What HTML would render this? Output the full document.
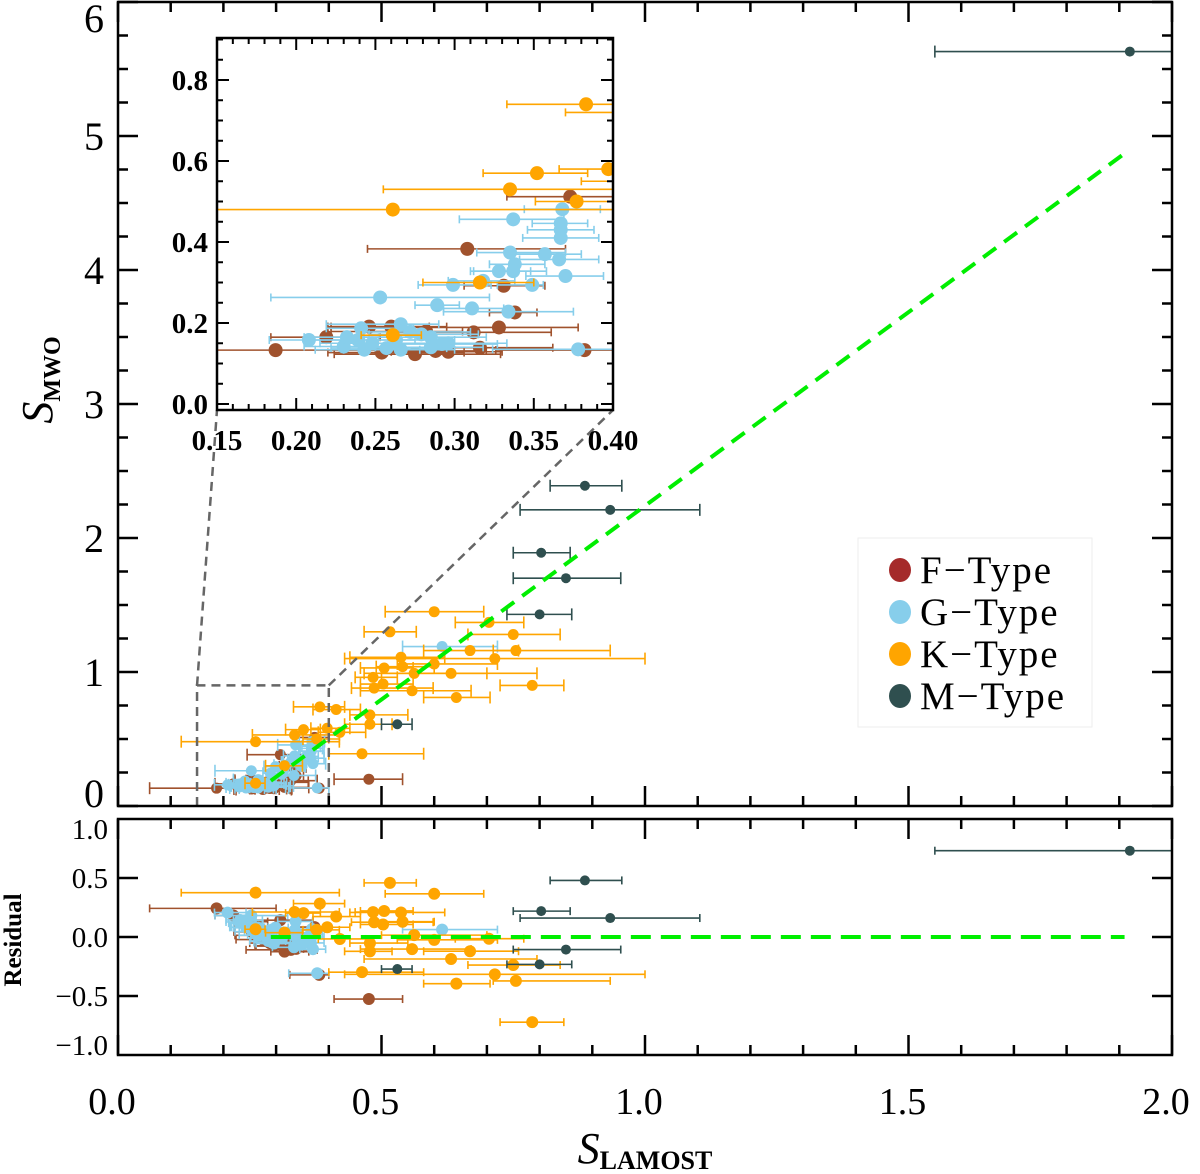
<!DOCTYPE html>
<html><head><meta charset="utf-8"><style>
html,body{margin:0;padding:0;background:#fff;}
svg{display:block;font-family:"Liberation Serif",serif;}
</style></head><body>
<svg id="chart" width="1200" height="1174" viewBox="0 0 1200 1174" xmlns="http://www.w3.org/2000/svg">
<defs>
<clipPath id="clipMain"><rect x="118" y="2" width="1054" height="804"/></clipPath>
<clipPath id="clipRes"><rect x="118" y="819" width="1054" height="236"/></clipPath>
<clipPath id="clipIn"><rect x="217" y="38" width="396" height="372"/></clipPath>
</defs>
<g id="main-layer"></g>
</svg>
<script>
// ---------------- data ----------------
const fX  = [0.373,0.308,0.331,0.338,0.328,0.312,0.187,0.219,0.246,0.260,0.282,0.254,0.275,0.288,0.296,0.316,0.382,0.476];
const fY  = [0.512,0.383,0.292,0.226,0.189,0.177,0.133,0.165,0.191,0.191,0.179,0.127,0.123,0.131,0.129,0.139,0.133,0.20];
const fLo = [0.333,0.245,0.306,0.322,0.243,0.262,0.06,0.184,0.220,0.222,0.222,0.220,0.224,0.250,0.260,0.290,0.326,0.41];
const fHi = [0.40,0.370,0.357,0.352,0.378,0.361,0.30,0.253,0.284,0.295,0.305,0.306,0.329,0.320,0.330,0.362,0.40,0.54];

const gX  = [0.368,0.337,0.367,0.367,0.367,0.335,0.357,0.366,0.338,0.328,0.337,0.370,0.318,0.299,0.349,0.253,0.289,0.311,0.334,0.266,0.241,0.208,0.378,0.23,0.239,0.248,0.257,0.266,0.272,0.279,0.285,0.292,0.296,0.243,0.232,0.263,0.285,0.615];
const gY  = [0.481,0.456,0.446,0.430,0.410,0.374,0.370,0.357,0.345,0.328,0.328,0.316,0.304,0.294,0.294,0.263,0.244,0.236,0.228,0.197,0.187,0.158,0.135,0.142,0.158,0.150,0.138,0.134,0.178,0.172,0.165,0.148,0.150,0.134,0.165,0.158,0.140,1.19];
const gLo = [0.344,0.303,0.349,0.346,0.343,0.314,0.336,0.341,0.322,0.310,0.312,0.345,0.296,0.277,0.327,0.184,0.275,0.293,0.293,0.219,0.219,0.183,0.324,0.205,0.210,0.215,0.222,0.230,0.240,0.246,0.252,0.258,0.262,0.212,0.205,0.230,0.250,0.54];
const gHi = [0.392,0.369,0.384,0.388,0.391,0.370,0.380,0.391,0.357,0.348,0.358,0.394,0.338,0.323,0.356,0.322,0.303,0.331,0.375,0.290,0.274,0.243,0.40,0.26,0.275,0.285,0.295,0.300,0.310,0.315,0.320,0.327,0.333,0.278,0.262,0.300,0.318,0.72];

const kX  = [0.60,0.704,0.516,0.75,0.668,0.755,0.715,0.537,0.60,0.505,0.54,0.562,0.632,0.484,0.503,0.486,0.558,0.786,0.642,0.383,0.414,0.478,0.478,0.352,0.335,0.397,0.421,0.261,0.463,0.316,0.261,0.377];
const kY  = [1.45,1.37,1.30,1.28,1.16,1.16,1.10,1.11,1.06,1.03,1.04,0.99,0.99,0.96,0.91,0.88,0.86,0.90,0.81,0.74,0.72,0.68,0.61,0.57,0.53,0.58,0.55,0.48,0.39,0.30,0.17,0.50];
const kLo = [0.507,0.64,0.467,0.664,0.58,0.712,0.43,0.44,0.53,0.46,0.49,0.50,0.467,0.45,0.46,0.443,0.46,0.725,0.58,0.333,0.37,0.44,0.43,0.318,0.255,0.366,0.38,0.12,0.40,0.28,0.241,0.351];
const kHi = [0.694,0.77,0.566,0.839,0.76,0.934,1.0,0.62,0.72,0.56,0.60,0.70,0.795,0.53,0.56,0.598,0.67,0.846,0.706,0.43,0.46,0.55,0.52,0.384,0.42,0.44,0.47,0.42,0.58,0.35,0.279,0.42];

const mX  = [1.92,0.886,0.934,0.803,0.85,0.80,0.53];
const mY  = [5.63,2.39,2.21,1.89,1.70,1.43,0.61];
const mLo = [1.55,0.82,0.763,0.75,0.75,0.738,0.50];
const mHi = [2.10,0.956,1.104,0.858,0.954,0.861,0.558];

const fitSlope = 2.89, fitIntercept = -0.65, fitXStart = 0.29, fitXEnd = 1.91;

const mainXTicks = ["0.0","0.5","1.0","1.5","2.0"];
const mainYTicks = ["0","1","2","3","4","5","6"];
const resYTicks  = ["1.0","0.5","0.0","−0.5","−1.0"];
const inXTicks   = ["0.15","0.20","0.25","0.30","0.35","0.40"];
const inYTicks   = ["0.0","0.2","0.4","0.6","0.8"];

// ---------------- scales ----------------
const NS = "http://www.w3.org/2000/svg";
const sx = v => 118 + v*527;
const syM = v => 806 - v*134;
const syR = v => 937 - v*118;
const sxI = v => 217 + (v-0.15)*1584;
const syI = v => 404 - v*405;
const svg = document.getElementById('main-layer');
function mk(tag, attrs, parent){
  const e = document.createElementNS(NS, tag);
  for (const k in attrs) e.setAttribute(k, attrs[k]);
  (parent||svg).appendChild(e);
  return e;
}
function group(name, clip){
  const g = mk('g', clip?{ 'clip-path':'url(#'+clip+')' }:{});
  
  
  return g;
}
function txt(s, x, y, size, anchor, parent, extra){
  const t = mk('text', Object.assign({x:x, y:y, 'font-size':size, 'text-anchor':anchor||'middle', fill:'#000'}, extra||{}), parent);
  t.textContent = s;
  return t;
}
const clamp = (v,a,b)=>Math.max(a,Math.min(b,v));

const types = [
  {name:'f', X:fX, Y:fY, Lo:fLo, Hi:fHi, col:'#a0522d'},
  {name:'g', X:gX, Y:gY, Lo:gLo, Hi:gHi, col:'#87ceeb'},
  {name:'k', X:kX, Y:kY, Lo:kLo, Hi:kHi, col:'#ffa500'},
  {name:'m', X:mX, Y:mY, Lo:mLo, Hi:mHi, col:'#2f4f4f'}
];

function drawSeries(g, X, Y, Lo, Hi, col, fx, fy, r, cap, lw, nm){
  for (let i=0;i<X.length;i++){
    const y = fy(Y[i]);
    const l = mk('line',{x1:fx(Lo[i]),x2:fx(Hi[i]),y1:y,y2:y,stroke:col,'stroke-width':lw},g);
    
    
    [Lo[i],Hi[i]].forEach(v=>{ mk('line',{x1:fx(v),x2:fx(v),y1:y-cap,y2:y+cap,stroke:col,'stroke-width':lw},g); });
  }
  for (let i=0;i<X.length;i++){
    const c = mk('circle',{cx:fx(X[i]),cy:fy(Y[i]),r:r,fill:col},g);
    
    
  }
}

// ---------------- main panel ----------------
const gm = group('main-plot-data','clipMain');
types.forEach(t=>drawSeries(gm,t.X,t.Y,t.Lo,t.Hi,t.col,sx,syM,t.name==='m'?5:5.5,6,1.6,t.name+'-type'));
const fitLine = mk('line',{x1:sx(fitXStart),y1:syM(fitSlope*fitXStart+fitIntercept),x2:sx(fitXEnd),y2:syM(fitSlope*fitXEnd+fitIntercept),stroke:'#00ee00','stroke-width':4,'stroke-dasharray':'16,10'},gm);



// zoom box
const gz = group('zoom-indicator');
mk('polyline',{points:`${sx(0.15)},${syM(0)} ${sx(0.15)},${syM(0.9)} ${sx(0.40)},${syM(0.9)} ${sx(0.40)},${syM(0)}`,fill:'none',stroke:'#666','stroke-width':2.5,'stroke-dasharray':'9,6'},gz);
mk('line',{x1:sx(0.15),y1:syM(0.9),x2:217,y2:410,stroke:'#666','stroke-width':2.5,'stroke-dasharray':'9,6'},gz);
mk('line',{x1:sx(0.40),y1:syM(0.9),x2:613,y2:410,stroke:'#666','stroke-width':2.5,'stroke-dasharray':'9,6'},gz);

// main frame + ticks
const ga = group('main-axes');
mk('rect',{x:118,y:2,width:1054,height:804,fill:'none',stroke:'#000','stroke-width':2.5},ga);
for (let i=0;i<=20;i++){ const x=sx(i*0.1), L=(i%5===0)?20:10;
  mk('line',{x1:x,x2:x,y1:806,y2:806-L,stroke:'#000','stroke-width':2.5},ga);
  mk('line',{x1:x,x2:x,y1:2,y2:2+L,stroke:'#000','stroke-width':2.5},ga);
  mk('line',{x1:x,x2:x,y1:1055,y2:1055-L,stroke:'#000','stroke-width':2.5},ga);
  mk('line',{x1:x,x2:x,y1:819,y2:819+L,stroke:'#000','stroke-width':2.5},ga);
}
for (let i=0;i<=24;i++){ const y=syM(i*0.25), L=(i%4===0)?20:10;
  mk('line',{x1:118,x2:118+L,y1:y,y2:y,stroke:'#000','stroke-width':2.5},ga);
  mk('line',{x1:1172,x2:1172-L,y1:y,y2:y,stroke:'#000','stroke-width':2.5},ga);
}
mainYTicks.forEach((s,i)=>{ const t=txt(s,94,clamp(syM(i),18,793)+14,40,'middle',ga);   });
mainXTicks.forEach((s,i)=>{ const t=txt(s,sx(i*0.5)-6,1114,38,'middle',ga);   });
const yt = mk('text',{transform:'translate(52,380) rotate(-90)','font-size':44,'text-anchor':'middle',fill:'#000'},ga);
 
yt.innerHTML = '<tspan font-style="italic">S</tspan><tspan font-size="24" font-weight="bold" dy="8">MWO</tspan>';
const xt = mk('text',{x:645,y:1163,'font-size':44,'text-anchor':'middle',fill:'#000'},ga);
 
xt.innerHTML = '<tspan font-style="italic">S</tspan><tspan font-size="26" font-weight="bold" dy="6">LAMOST</tspan>';

// ---------------- residual panel ----------------
const gr = group('residual-plot-data','clipRes');
const fitOf = x => fitSlope*x + fitIntercept;
types.forEach(t=>{
  const R = t.Y.map((y,i)=>y - fitOf(t.X[i]));
  drawSeries(gr,t.X,R,t.Lo,t.Hi,t.col,sx,syR,t.name==='m'?5:6,4,1.6,t.name+'-residual');
});
const zl = mk('line',{x1:sx(0.29),x2:sx(1.91),y1:syR(0),y2:syR(0),stroke:'#00ee00','stroke-width':4,'stroke-dasharray':'20,10'},gr);
 
const gra = group('residual-axes');
mk('rect',{x:118,y:819,width:1054,height:236,fill:'none',stroke:'#000','stroke-width':2.5},gra);
resYTicks.forEach((s,i)=>{ const v=1-i*0.5, y=syR(v);
  if (i>0 && i<4){ mk('line',{x1:118,x2:138,y1:y,y2:y,stroke:'#000','stroke-width':2.5},gra); mk('line',{x1:1172,x2:1152,y1:y,y2:y,stroke:'#000','stroke-width':2.5},gra); }
  const t=txt(s,108,clamp(y,829,1045)+10,29,'end',gra);   });
const rt = txt('Residual',0,0,25,'middle',gra,{transform:'translate(21,940) rotate(-90)','font-weight':'bold'});
 

// ---------------- inset ----------------
const gib = group('inset-background');
mk('rect',{x:217,y:38,width:396,height:372,fill:'#fff'},gib);
const gi = group('inset-plot-data','clipIn');
types.forEach(t=>drawSeries(gi,t.X,t.Y,t.Lo,t.Hi,t.col,sxI,syI,7,4,1.6,t.name+'-inset'));
const gia = group('inset-axes');
mk('rect',{x:217,y:38,width:396,height:372,fill:'none',stroke:'#000','stroke-width':2.5},gia);
for (let i=0;i<=25;i++){ const x=sxI(0.15+i*0.01), L=(i%5===0)?12:6;
  mk('line',{x1:x,x2:x,y1:410,y2:410-L,stroke:'#000','stroke-width':2},gia);
  mk('line',{x1:x,x2:x,y1:38,y2:38+L,stroke:'#000','stroke-width':2},gia);
}
for (let i=0;i<=18;i++){ const y=syI(i*0.05), L=(i%4===0)?12:6;
  mk('line',{x1:217,x2:217+L,y1:y,y2:y,stroke:'#000','stroke-width':2},gia);
  mk('line',{x1:613,x2:613-L,y1:y,y2:y,stroke:'#000','stroke-width':2},gia);
}
inXTicks.forEach((s,i)=>{ const t=txt(s,sxI(0.15+i*0.05),450,29,'middle',gia,{'font-weight':'bold'});   });
inYTicks.forEach((s,i)=>{ const t=txt(s,208,syI(i*0.2)+10,29,'end',gia,{'font-weight':'bold'});   });

// ---------------- legend ----------------
const legNames = ["F−Type","G−Type","K−Type","M−Type"];
const legCols  = ["#a52a2a","#87ceeb","#ffa500","#2f4f4f"];
const gl = group('legend');
mk('rect',{x:858,y:538,width:234,height:189,fill:'#fff',stroke:'#eee','stroke-width':1},gl);
legNames.forEach((s,i)=>{
  const y = 570 + i*42;
  const e = mk('g',{},gl);
  
  
  mk('ellipse',{cx:900,cy:y,rx:11,ry:12,fill:legCols[i]},e);
  txt(s,920,y+13,39,'start',e,{'letter-spacing':'2'});
});
</script>
</body></html>
